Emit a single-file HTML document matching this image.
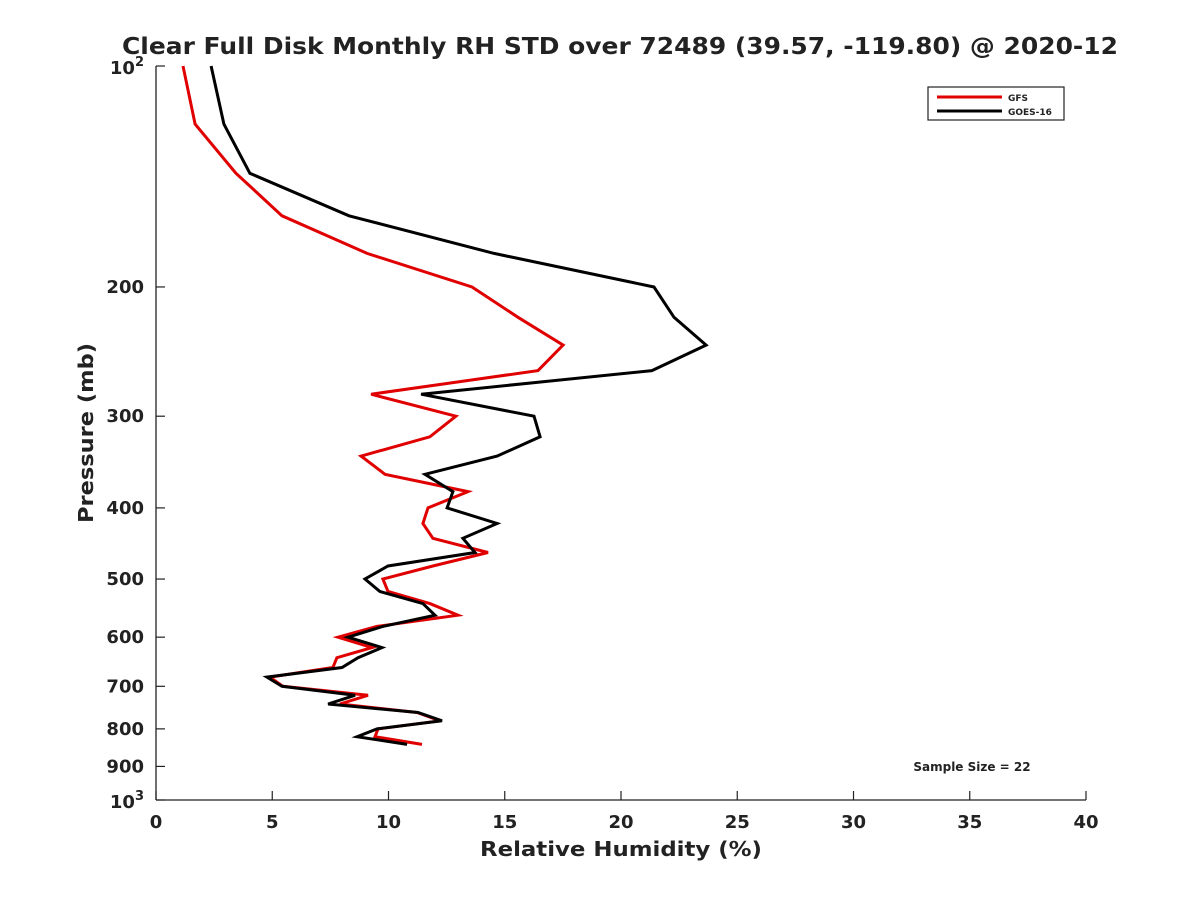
<!DOCTYPE html>
<html><head><meta charset="utf-8"><style>
body{margin:0;background:#fff}
svg text{font-family:"DejaVu Sans","Liberation Sans",sans-serif;font-weight:bold;fill:#222}
</style></head><body>
<svg id="chart" width="1200" height="900" viewBox="0 0 1200 900" xmlns="http://www.w3.org/2000/svg">
<rect width="1200" height="900" fill="#fff"/>
<text x="620" y="54" font-size="23" text-anchor="middle" textLength="996" lengthAdjust="spacingAndGlyphs">Clear Full Disk Monthly RH STD over 72489 (39.57, -119.80) @ 2020-12</text>
<g id="axes"></g>
<g id="series"></g>
<text x="621" y="856" font-size="20" text-anchor="middle" textLength="282" lengthAdjust="spacingAndGlyphs">Relative Humidity (%)</text>
<text transform="translate(93,433) rotate(-90)" font-size="20" text-anchor="middle" textLength="180" lengthAdjust="spacingAndGlyphs">Pressure (mb)</text>
<g>
<rect x="928" y="87" width="136" height="33" fill="#fff" stroke="#222" stroke-width="1.2"/>
<line x1="937" y1="97" x2="1002" y2="97" stroke="#e00000" stroke-width="3"/>
<text x="1008" y="101" font-size="9">GFS</text>
<line x1="937" y1="111" x2="1002" y2="111" stroke="#000" stroke-width="3"/>
<text x="1008" y="115" font-size="9">GOES-16</text>
</g>
<text x="972" y="771" font-size="12" text-anchor="middle">Sample Size = 22</text>
</svg>
<script>
const pressures=[100,120,140,160,180,200,220,240,260,280,300,320,340,360,380,400,420,440,460,480,500,520,540,560,580,600,620,640,660,680,700,720,740,760,780,800,820,840];
const goesValues=[2.37,2.92,4.04,8.30,14.54,21.42,22.28,23.66,21.33,11.40,16.26,16.52,14.67,11.57,12.77,12.52,14.67,13.20,13.72,9.98,8.99,9.63,11.48,12.00,9.76,8.26,9.72,8.69,8.00,4.77,5.42,8.56,7.40,11.27,12.30,9.51,8.65,10.80];
const gfsValues=[1.16,1.68,3.44,5.42,9.08,13.59,15.57,17.51,16.43,9.25,12.90,11.78,8.82,9.85,13.42,11.70,11.48,11.91,14.28,11.91,9.76,9.98,11.78,12.99,9.51,7.83,9.29,7.78,7.61,4.90,5.46,9.12,7.91,11.23,12.22,9.55,9.42,11.44];
const xTicks=[0,5,10,15,20,25,30,35,40];
const yTicks=[200,300,400,500,600,700,800,900];

const X0=156,X1=1086,Y0=66,Y1=800;
const xs=v=>X0+(v-0)/40*(X1-X0);
const ys=p=>Y0+Math.log10(p/100)*(Y1-Y0);
const NS="http://www.w3.org/2000/svg";
function mk(tag,attrs,parent){const e=document.createElementNS(NS,tag);for(const k in attrs)e.setAttribute(k,attrs[k]);parent.appendChild(e);return e;}
const ax=document.getElementById('axes');
let l=mk('line',{x1:X0,y1:Y0,x2:X0,y2:Y1,stroke:'#222','stroke-width':1.3},ax);


l=mk('line',{x1:X0,y1:Y1,x2:X1,y2:Y1,stroke:'#222','stroke-width':1.3},ax);


xTicks.forEach(v=>{
  const x=xs(v);
  mk('line',{x1:x,y1:Y1,x2:x,y2:Y1-9,stroke:'#222','stroke-width':1.2},ax);
  const t=mk('text',{x:x,y:Y1+28,'font-size':18,'text-anchor':'middle'},ax);
  t.textContent=v;
  
  
});
yTicks.forEach(p=>{
  const y=ys(p);
  mk('line',{x1:X0,y1:y,x2:X0+9,y2:y,stroke:'#222','stroke-width':1.2},ax);
  const t=mk('text',{x:X0-12,y:y+6,'font-size':18,'text-anchor':'end'},ax);
  t.textContent=p;
  
  
});
[[100,Y0],[1000,Y1]].forEach(([p,y])=>{
  mk('line',{x1:X0,y1:y,x2:X0+9,y2:y,stroke:'#222','stroke-width':1.2},ax);
  const t=mk('text',{x:X0-12,y:y+8,'font-size':18,'text-anchor':'end'},ax);
  t.innerHTML='10<tspan dy="-8" font-size="13">'+(p===100?2:3)+'</tspan>';
  
  
});
const sg=document.getElementById('series');
function draw(vals,color,name){
  const pts=vals.map((v,i)=>xs(v).toFixed(1)+','+ys(pressures[i]).toFixed(1)).join(' ');
  const pl=mk('polyline',{points:pts,fill:'none',stroke:color,'stroke-width':3,'stroke-linejoin':'miter'},sg);
  
  
}
draw(gfsValues,'#e00000','gfs-line');
draw(goesValues,'#000','goes16-line');
</script>
</body></html>
